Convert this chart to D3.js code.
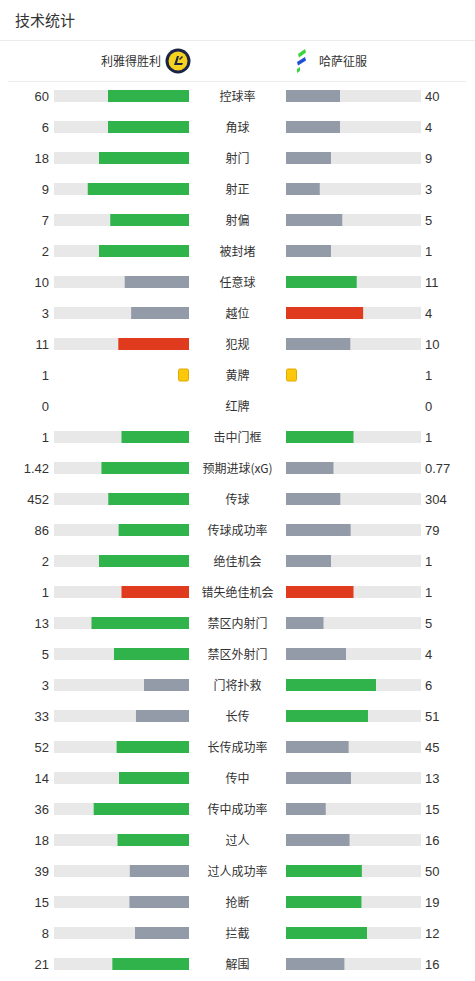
<!DOCTYPE html>
<html>
<head>
<meta charset="utf-8">
<script src="https://cdn.jsdelivr.net/npm/d3@7"></script>
<style>
html,body{margin:0;padding:0;background:#fff;}
svg{display:block;font-family:"Liberation Sans","Noto Sans CJK SC",sans-serif;}
</style>
</head>
<body>
<svg id="chart" width="475" height="981"></svg>
<script>
const title = "技术统计";
const homeTeam = "利雅得胜利";
const awayTeam = "哈萨征服";
const categories = ["控球率","角球","射门","射正","射偏","被封堵","任意球","越位","犯规","黄牌","红牌","击中门框","预期进球(xG)","传球","传球成功率","绝佳机会","错失绝佳机会","禁区内射门","禁区外射门","门将扑救","长传","长传成功率","传中","传中成功率","过人","过人成功率","抢断","拦截","解围"];
const homeValues = [60,6,18,9,7,2,10,3,11,1,0,1,1.42,452,86,2,1,13,5,3,33,52,14,36,18,39,15,8,21];
const awayValues = [40,4,9,3,5,1,11,4,10,1,0,1,0.77,304,79,1,1,5,4,6,51,45,13,15,16,50,19,12,16];
const homeLabels = ["60","6","18","9","7","2","10","3","11","1","0","1","1.42","452","86","2","1","13","5","3","33","52","14","36","18","39","15","8","21"];
const awayLabels = ["40","4","9","3","5","1","11","4","10","1","0","1","0.77","304","79","1","1","5","4","6","51","45","13","15","16","50","19","12","16"];
const negativeStats = ["越位","犯规","错失绝佳机会"];
const cardStats = ["黄牌","红牌"];

const C = {green:"#2fb34a", gray:"#939aa8", red:"#e03b1e", track:"#e8e8e8", yellow:"#fcc90a", yellowStroke:"#e0a800", text:"#333"};
const CJK = "'Noto Sans CJK SC',sans-serif";

const svg = d3.select("#chart");

// header
svg.append("text").attr("x",15).attr("y",25.5).attr("font-size",15).attr("fill",C.text)
  .attr("font-family",CJK).text(title);
svg.append("line").attr("x1",0).attr("x2",475).attr("y1",40.5).attr("y2",40.5).attr("stroke","#ececec");
svg.append("line").attr("x1",8).attr("x2",466).attr("y1",81.5).attr("y2",81.5).attr("stroke","#ececec");

svg.append("text").attr("x",161).attr("y",65.5).attr("text-anchor","end").attr("font-size",12)
  .attr("fill",C.text).attr("font-family",CJK).text(homeTeam);
svg.append("text").attr("x",319).attr("y",65.5).attr("text-anchor","start").attr("font-size",12)
  .attr("fill",C.text).attr("font-family",CJK).text(awayTeam);

// home logo
const hl = svg.append("g").attr("transform","translate(178,61)");
hl.append("circle").attr("r",12.5).attr("fill","#1d2346");
hl.append("circle").attr("r",9.5).attr("fill","#f5d21e");
hl.append("path").attr("d","M-4,4 L-1,-5 L1,-5 L-1,2 L5,2 L4,4 Z").attr("fill","#1d2346");
hl.append("path").attr("d","M1,-2 L4,-5 L5,-4 L2,-1 Z").attr("fill","#1d2346");

// away logo
const al = svg.append("g");
al.append("path").attr("d","M298,54 L305,49 L306,52.5 L299,57.5 Z").attr("fill","#3bd43e");
al.append("path").attr("d","M297,62 L305,57 L306,60.5 L298,65.5 Z").attr("fill","#1f4fd6");
al.append("path").attr("d","M297,69 L300,67 L300,71 L297,73 Z").attr("fill","#3bd43e");

// scales
const y = d3.scalePoint().domain(categories).range([96,964]);
const trackW = 135, barH = 12;
const leftEnd = 189, rightStart = 286;
const len = d3.scaleLinear().domain([0,1]).range([0,trackW]);

categories.forEach((cat,i)=>{
  const a = homeValues[i], b = awayValues[i];
  const cy = y(cat);
  const g = svg.append("g");
  g.append("text").attr("x",237.5).attr("y",cy+4.5).attr("text-anchor","middle").attr("font-size",12)
    .attr("fill",C.text).attr("font-family",CJK).text(cat);
  g.append("text").attr("x",49).attr("y",cy+4.5).attr("text-anchor","end").attr("font-size",13)
    .attr("fill",C.text).text(homeLabels[i]);
  g.append("text").attr("x",425).attr("y",cy+4.5).attr("text-anchor","start").attr("font-size",13)
    .attr("fill",C.text).text(awayLabels[i]);
  if (cardStats.includes(cat)) {
    if (a > 0) g.append("rect").attr("x",leftEnd-10.5).attr("y",cy-6).attr("width",10).attr("height",12).attr("rx",1.5)
      .attr("fill",C.yellow).attr("stroke",C.yellowStroke).attr("stroke-width",1);
    if (b > 0) g.append("rect").attr("x",rightStart+0.5).attr("y",cy-6).attr("width",10).attr("height",12).attr("rx",1.5)
      .attr("fill",C.yellow).attr("stroke",C.yellowStroke).attr("stroke-width",1);
    return;
  }
  const tot = a + b;
  const neg = negativeStats.includes(cat);
  const hi = neg ? C.red : C.green;
  const colA = a >= b ? hi : C.gray;
  const colB = b >= a ? hi : C.gray;
  g.append("rect").attr("x",leftEnd-trackW).attr("y",cy-barH/2).attr("width",trackW).attr("height",barH).attr("fill",C.track);
  g.append("rect").attr("x",rightStart).attr("y",cy-barH/2).attr("width",trackW).attr("height",barH).attr("fill",C.track);
  const wa = len(tot ? a/tot : 0), wb = len(tot ? b/tot : 0);
  g.append("rect").attr("x",leftEnd-wa).attr("y",cy-barH/2).attr("width",wa).attr("height",barH).attr("fill",colA);
  g.append("rect").attr("x",rightStart).attr("y",cy-barH/2).attr("width",wb).attr("height",barH).attr("fill",colB);
});
</script>
</body>
</html>
